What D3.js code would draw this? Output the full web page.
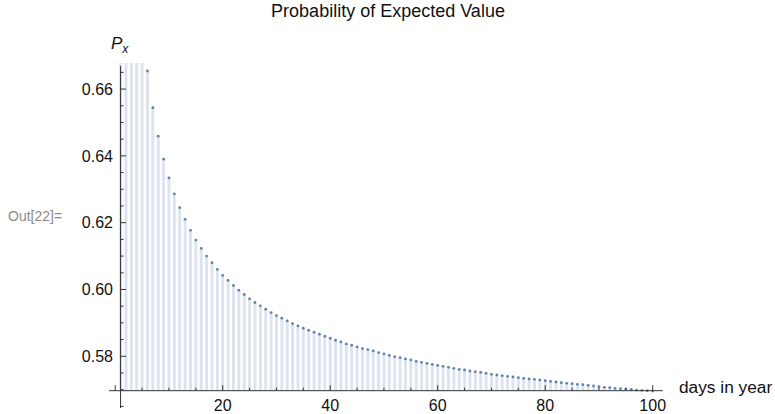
<!DOCTYPE html>
<html>
  <head>
    <meta charset="utf-8">
    <title>Probability of Expected Value</title>
    <script src="https://d3js.org/d3.v7.min.js"></script>
    <style>
      body { margin: 0; background: #fff; }
      text { font-family: "Liberation Sans", Arial, sans-serif; }
    </style>
  </head>
  <body>
    <svg id="chart" width="775" height="414"></svg>
    <script>
      // data (days 1..5 are above the visible range)
      const days = [1, 2, 3, 4, 5, 6, 7, 8, 9, 10, 11, 12, 13, 14, 15, 16, 17, 18, 19, 20,
        21, 22, 23, 24, 25, 26, 27, 28, 29, 30, 31, 32, 33, 34, 35, 36, 37, 38, 39, 40,
        41, 42, 43, 44, 45, 46, 47, 48, 49, 50, 51, 52, 53, 54, 55, 56, 57, 58, 59, 60,
        61, 62, 63, 64, 65, 66, 67, 68, 69, 70, 71, 72, 73, 74, 75, 76, 77, 78, 79, 80,
        81, 82, 83, 84, 85, 86, 87, 88, 89, 90, 91, 92, 93, 94, 95, 96, 97, 98, 99, 100];
      const probs = [1.0, 0.75, 0.72, 0.697, 0.679, 0.6654, 0.6544, 0.6459, 0.6390, 0.6334,
        0.6286, 0.6245, 0.6210, 0.6177, 0.6148, 0.6123, 0.6100, 0.6080, 0.6060, 0.6042,
        0.6027, 0.6012, 0.5998, 0.5985, 0.5972, 0.5961, 0.5951, 0.5941, 0.5931, 0.5922,
        0.5914, 0.5906, 0.5898, 0.5891, 0.5884, 0.5878, 0.5872, 0.5866, 0.5860, 0.5854,
        0.5848, 0.5843, 0.5837, 0.5833, 0.5828, 0.5823, 0.5820, 0.5816, 0.5811, 0.5807,
        0.5803, 0.5799, 0.5796, 0.5792, 0.5789, 0.5785, 0.5782, 0.5779, 0.5776, 0.5773,
        0.5770, 0.5767, 0.5764, 0.5761, 0.5759, 0.5756, 0.5754, 0.5752, 0.5749, 0.5746,
        0.5744, 0.5742, 0.5740, 0.5738, 0.5736, 0.5734, 0.5732, 0.5731, 0.5729, 0.5727,
        0.5725, 0.5723, 0.5721, 0.5719, 0.5718, 0.5716, 0.5715, 0.5713, 0.5711, 0.5709,
        0.5707, 0.5706, 0.5704, 0.5703, 0.5702, 0.5701, 0.5699, 0.5698, 0.5697, 0.5696];
      const xTickLabels = [20, 40, 60, 80, 100];
      const yTickLabels = [0.58, 0.60, 0.62, 0.64, 0.66];

      const title = "Probability of Expected Value";
      const xLabel = "days in year";
      const outLabel = "Out[22]=";

      // axes origin in data space and visible range
      const originX = 1, originY = 0.5697;
      const yTop = 0.6678, yBottom = 0.5645;
      const xLeft = -1.15, xRight = 101.9;

      const svg = d3.select("#chart");
      const x = d3.scaleLinear().domain([0, 100]).range([115.2, 652.7]);
      const y = d3.scaleLinear().domain([originY, yTop]).range([390.7, 63]);

      const pointColor = "#5e81b5";
      const fillColor = "#dde4f0";

      svg.append("defs").append("clipPath")
        .attr("id", "plotClip")
        .append("rect")
          .attr("x", 100).attr("y", y(yTop))
          .attr("width", 580).attr("height", 414 - y(yTop));

      const plot = svg.append("g").attr("clip-path", "url(#plotClip)");
      const data = days.map(function(d, i) { return {day: d, p: probs[i]}; });

      plot.selectAll(".bar")
        .data(data)
        .enter().append("line")
          .attr("class", "bar")
          .attr("x1", function(d) { return x(d.day); })
          .attr("x2", function(d) { return x(d.day); })
          .attr("y1", y(originY))
          .attr("y2", function(d) { return y(d.p); })
          .attr("stroke", fillColor)
          .attr("stroke-width", 3);

      // axes
      const axisColor = "#333";
      svg.append("line")
        .attr("x1", x(xLeft)).attr("x2", x(xRight))
        .attr("y1", y(originY)).attr("y2", y(originY))
        .attr("stroke", axisColor).attr("stroke-width", 1);
      svg.append("line")
        .attr("x1", x(originX)).attr("x2", x(originX))
        .attr("y1", y(yBottom)).attr("y2", y(yTop) + 3)
        .attr("stroke", axisColor).attr("stroke-width", 1);

      // x ticks, pointing up into the plot
      const xTicks = d3.range(0, 101, 5);
      svg.selectAll(".xtick")
        .data(xTicks)
        .enter().append("line")
          .attr("class", "xtick")
          .attr("x1", function(d) { return x(d); })
          .attr("x2", function(d) { return x(d); })
          .attr("y1", y(originY))
          .attr("y2", function(d) { return y(originY) - (d % 20 === 0 ? 5.5 : 3); })
          .attr("stroke", axisColor).attr("stroke-width", 1);
      svg.selectAll(".xlabel")
        .data(xTickLabels)
        .enter().append("text")
          .attr("class", "xlabel")
          .attr("x", function(d) { return x(d); })
          .attr("y", 411)
          .attr("text-anchor", "middle")
          .attr("font-size", 16)
          .attr("fill", "#111")
          .text(function(d) { return d; });

      // y ticks, pointing right into the plot
      const yTicks = d3.range(113, 134).map(function(k) { return k * 0.005; });
      svg.selectAll(".ytick")
        .data(yTicks)
        .enter().append("line")
          .attr("class", "ytick")
          .attr("x1", x(originX))
          .attr("x2", function(d) { return x(originX) + (Math.round(d * 1000) % 20 === 0 ? 5.5 : 3); })
          .attr("y1", function(d) { return y(d); })
          .attr("y2", function(d) { return y(d); })
          .attr("stroke", axisColor).attr("stroke-width", 1);
      svg.selectAll(".ylabel")
        .data(yTickLabels)
        .enter().append("text")
          .attr("class", "ylabel")
          .attr("x", 113)
          .attr("y", function(d) { return y(d); })
          .attr("dy", "0.36em")
          .attr("text-anchor", "end")
          .attr("font-size", 16)
          .attr("fill", "#111")
          .text(function(d) { return d3.format(".2f")(d); });

      // points on top
      plot.selectAll(".pt")
        .data(data)
        .enter().append("circle")
          .attr("class", "pt")
          .attr("cx", function(d) { return x(d.day); })
          .attr("cy", function(d) { return y(d.p); })
          .attr("r", 1.4)
          .attr("fill", pointColor);

      // labels
      svg.append("text")
        .attr("x", 388).attr("y", 17)
        .attr("text-anchor", "middle")
        .attr("font-size", 18)
        .attr("fill", "#111")
        .text(title);
      const pLabel = svg.append("text")
        .attr("x", 111).attr("y", 49)
        .attr("font-size", 17)
        .attr("font-style", "italic")
        .attr("fill", "#111");
      pLabel.append("tspan").text("P");
      pLabel.append("tspan").attr("dy", 4).attr("font-size", 12).text("x");
      svg.append("text")
        .attr("x", 679).attr("y", 393)
        .attr("font-size", 17.3)
        .attr("fill", "#111")
        .text(xLabel);
      svg.append("text")
        .attr("x", 8).attr("y", 221)
        .attr("font-size", 14)
        .attr("fill", "#8a8a8a")
        .text(outLabel);
    </script>
  </body>
</html>
